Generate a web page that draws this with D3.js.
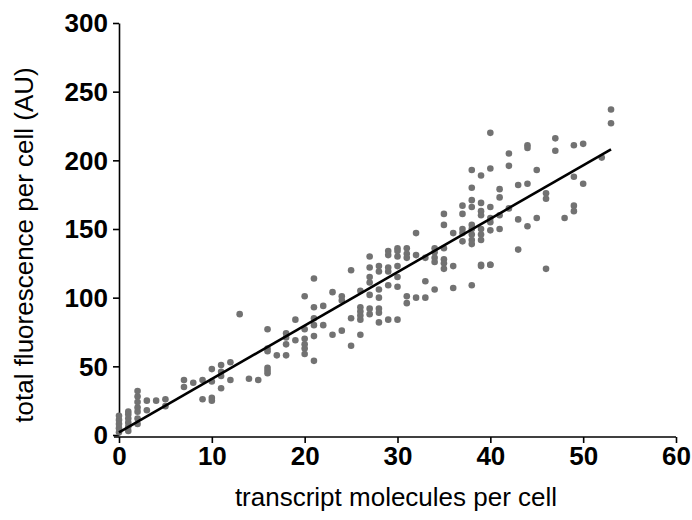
<!DOCTYPE html>
<html>
<head>
<meta charset="utf-8">
<script src="https://cdn.jsdelivr.net/npm/d3@7"></script>
<style>
  body { margin: 0; background: #fff; }
  svg { display: block; }
</style>
</head>
<body>
<svg id="chart" width="692" height="520"></svg>
<script>
// transcript molecules per cell (x) / total fluorescence per cell (y)
const cellX = [
  0,0,0,0,0,
  1,1,1,1,1,1,
  2,2,2,2,2,2,2,
  3,3, 4, 5,5, 7,7, 8, 9,9,
  10,10,10,10, 11,11,11,11, 12,12, 13, 14, 15,
  16,16,16,16,16,16, 17, 18,18,18,18, 19,19,
  20,20,20,20,20,20,
  21,21,21,21,21,21, 22,22, 23,23, 24,24,24, 25,25,25,
  26,26,26,26,26,26,
  27,27,27,27,27,27,27,
  28,28,28,28,28,28,28,
  29,29,29,29,29,29,
  30,30,30,30,30,30,30,
  31,31,31,31,31, 32,32,32, 33,33,33,
  34,34,34,34,34, 35,35,35,35,35,35,
  36,36,36, 37,37,37,37,37,
  38,38,38,38,38,38,38,38,38,38,
  39,39,39,39,39,39,39,39,39,
  40,40,40,40,40,40,40,40,
  41,41,41,41,
  42,42,42, 43,43,43, 44,44,44,44, 45,45,
  46,46,46, 47,47, 48, 49,49,49,49, 50,50, 52, 53,53
];
const cellY = [
  2,5,8,11,14,
  3,6,9,12,15,17,
  8,12,17,20,24,28,32,
  25,18, 25, 26,21, 40,35, 38, 40,26,
  48,39,27,25, 51,46,43,34, 53,40, 88, 41, 40,
  77,63,61,49,47,45, 58, 74,71,66,58, 84,69,
  101,77,70,66,63,59,
  114,93,85,80,72,54, 94,80, 104,73, 101,98,76, 120,85,65,
  105,93,90,87,84,73,
  130,122,115,111,102,92,88,
  123,119,106,100,92,89,82,
  134,131,122,119,109,84,
  136,134,130,123,115,108,84,
  136,132,129,101,96, 147,131,100, 129,112,100,
  136,133,129,126,106, 161,153,136,128,125,121,
  147,123,107, 167,161,150,147,141,
  193,180,171,166,153,150,146,142,139,109,
  189,169,163,160,150,146,142,123,124,
  220,194,166,158,155,149,124,124,
  179,173,160,150,
  205,196,165, 182,157,135, 211,209,183,152, 193,158,
  176,172,121, 216,207, 158, 211,188,167,163, 212,183, 202, 237,227
];

// fitted line, ends
const fitX = [0, 53];
const fitY = [2, 208];

const xTicks = [0, 10, 20, 30, 40, 50, 60];
const yTicks = [0, 50, 100, 150, 200, 250, 300];

const svg = d3.select("#chart");
const margin = { left: 119, right: 16, top: 23, bottom: 85 };
const width = +svg.attr("width");
const height = +svg.attr("height");
const font = "'Liberation Sans', Arial, sans-serif";

const scX = d3.scaleLinear().domain([0, 60]).range([margin.left, width - margin.right]);
const scY = d3.scaleLinear().domain([0, 300]).range([height - margin.bottom, margin.top]);

// оси
const axX = svg.append("g")
  .attr("transform", `translate(0, ${height - margin.bottom + 2})`)
  .call(d3.axisBottom(scX).tickValues(xTicks).tickSize(6).tickSizeOuter(0).tickPadding(4));
const axY = svg.append("g")
  .attr("transform", `translate(${margin.left}, 0)`)
  .call(d3.axisLeft(scY).tickValues(yTicks).tickSize(6).tickSizeOuter(0).tickPadding(5));

[axX, axY].forEach(ax => {
  ax.select(".domain").attr("stroke", "#000").attr("stroke-width", 1.6);
  ax.selectAll(".tick line").attr("stroke", "#000").attr("stroke-width", 1.6);
  ax.selectAll("text")
    .attr("fill", "#000")
    .style("font-family", font)
    .style("font-weight", "bold")
    .style("font-size", "26px");
});
axX.select(".domain").attr("d", `M${scX(0) - 5},0H${scX(60)}`);
axY.selectAll("text").attr("dy", "0.34em");

// точки
const pts = cellX.map((x, i) => ({ x: x, y: cellY[i] }));
svg.append("g")
  .selectAll("circle")
  .data(pts)
  .enter()
  .append("circle")
  .attr("cx", d => scX(d.x))
  .attr("cy", d => scY(d.y))
  .attr("r", 3.3)
  .attr("fill", "#727272");

// линия регрессии
svg.append("line")
  .attr("x1", scX(fitX[0])).attr("y1", scY(fitY[0]))
  .attr("x2", scX(fitX[1])).attr("y2", scY(fitY[1]))
  .attr("stroke", "#000")
  .attr("stroke-width", 2.6);

// подписи осей
svg.append("text")
  .attr("x", 396).attr("y", 506)
  .attr("text-anchor", "middle")
  .style("font-family", font)
  .style("font-size", "26px")
  .text("transcript molecules per cell");

svg.append("text")
  .attr("transform", "translate(33, 245) rotate(-90)")
  .attr("text-anchor", "middle")
  .style("font-family", font)
  .style("font-size", "26px")
  .text("total fluorescence per cell (AU)");
</script>
</body>
</html>
